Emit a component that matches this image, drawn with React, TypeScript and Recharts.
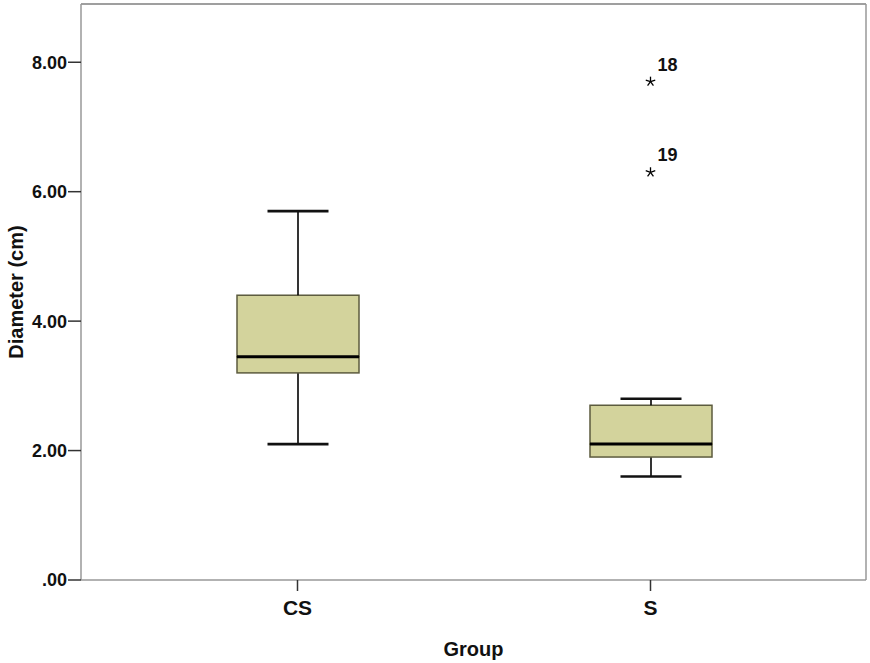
import React from 'react';
import { ComposedChart, Bar, Line, XAxis, YAxis, ReferenceLine } from 'recharts';

const groups = ['CS', 'S'];
const mins = [2.1, 1.6];
const q1s = [3.2, 1.9];
const medians = [3.45, 2.1];
const q3s = [4.4, 2.7];
const maxs = [5.7, 2.8];

const outlierGroups = ['S', 'S'];
const outlierValues = [7.7, 6.3];
const outlierLabels = ['18', '19'];

const yTicks = [0, 2, 4, 6, 8];
const yDomain = [0, 8.9];

const data = groups.map((g, i) => {
  const row: any = {
    group: g,
    base: mins[i],
    lowWhisker: q1s[i] - mins[i],
    lowBox: medians[i] - q1s[i],
    highBox: q3s[i] - medians[i],
    highWhisker: maxs[i] - q3s[i],
    out0: null,
    out1: null,
    lab0: null,
    lab1: null,
  };
  let k = 0;
  outlierGroups.forEach((og, j) => {
    if (og === g) {
      row['out' + k] = outlierValues[j];
      row['lab' + k] = outlierLabels[j];
      k++;
    }
  });
  return row;
});

const FONT = '"Liberation Sans", Arial, sans-serif';
const BOX_FILL = '#d3d39c';
const BOX_STROKE = '#5c5b3e';
const FRAME = '#999';

const LowWhisker = (p: any) => {
  const cx = p.x + p.width / 2;
  const half = p.width / 4;
  const bottom = p.y + p.height;
  return (
    <g>
      <line x1={cx} x2={cx} y1={p.y} y2={bottom} stroke="#000" strokeWidth={1.6} />
      <line x1={cx - half} x2={cx + half} y1={bottom} y2={bottom} stroke="#111" strokeWidth={2.6} />
    </g>
  );
};

const HighWhisker = (p: any) => {
  const cx = p.x + p.width / 2;
  const half = p.width / 4;
  return (
    <g>
      <line x1={cx} x2={cx} y1={p.y} y2={p.y + p.height} stroke="#000" strokeWidth={1.6} />
      <line x1={cx - half} x2={cx + half} y1={p.y} y2={p.y} stroke="#111" strokeWidth={2.6} />
    </g>
  );
};

const LowBox = (p: any) => (
  <rect x={p.x} y={p.y} width={p.width} height={p.height} fill={BOX_FILL} stroke={BOX_STROKE} strokeWidth={1.5} />
);

const HighBox = (p: any) => (
  <g>
    <rect x={p.x} y={p.y} width={p.width} height={p.height} fill={BOX_FILL} stroke={BOX_STROKE} strokeWidth={1.5} />
    <line x1={p.x} x2={p.x + p.width} y1={p.y + p.height} y2={p.y + p.height} stroke="#000" strokeWidth={3} />
  </g>
);

const makeOutlierDot = (labKey: string) => (p: any) => {
  const { cx, cy, payload } = p;
  if (cx == null || cy == null || payload == null || payload[labKey] == null) return <g key={p.key} />;
  const r = 5;
  const spokes = [0, 1, 2, 3, 4].map((i) => {
    const a = (-90 + i * 72) * (Math.PI / 180);
    return (
      <line key={i} x1={cx} y1={cy} x2={cx + r * Math.cos(a)} y2={cy + r * Math.sin(a)} stroke="#000" strokeWidth={1.3} />
    );
  });
  return (
    <g key={p.key}>
      {spokes}
      <text x={cx + 7} y={cy - 11} fontFamily={FONT} fontWeight="bold" fontSize={18} fill="#111">
        {payload[labKey]}
      </text>
    </g>
  );
};

const yFmt = (v: number) => (v === 0 ? '.00' : v.toFixed(2));

export default function App() {
  return (
    <div style={{ position: 'absolute', left: 0, top: 0, background: '#fff' }}>
      <ComposedChart width={870} height={663} data={data} margin={{ top: 3, right: 3, left: 0, bottom: 0 }}>
        <XAxis
          dataKey="group"
          type="category"
          height={83}
          padding={{ left: 40, right: 39 }}
          axisLine={{ stroke: FRAME, strokeWidth: 1.5 }}
          tickLine={{ stroke: '#333', strokeWidth: 1.5 }}
          tickSize={11}
          tickMargin={9}
          tick={{ fontFamily: FONT, fontWeight: 'bold', fontSize: 21, fill: '#111' }}
          label={{ value: 'Group', position: 'insideBottom', offset: 7, style: { fontFamily: FONT, fontWeight: 'bold', fontSize: 20, fill: '#111' } }}
        />
        <XAxis
          xAxisId="top"
          dataKey="group"
          orientation="top"
          height={1}
          tick={false}
          tickLine={false}
          axisLine={{ stroke: FRAME, strokeWidth: 1.5 }}
        />
        <YAxis
          type="number"
          domain={yDomain}
          ticks={yTicks}
          tickFormatter={yFmt}
          width={81}
          axisLine={{ stroke: FRAME, strokeWidth: 1.5 }}
          tickLine={{ stroke: '#333', strokeWidth: 1.5 }}
          tickSize={13}
          tickMargin={1}
          tick={{ fontFamily: FONT, fontWeight: 'bold', fontSize: 18, fill: '#111' }}
          label={{ value: 'Diameter (cm)', angle: -90, position: 'insideLeft', offset: 16, style: { textAnchor: 'middle', fontFamily: FONT, fontWeight: 'bold', fontSize: 20, fill: '#111' } }}
        />
        <YAxis
          yAxisId="right"
          orientation="right"
          type="number"
          domain={yDomain}
          width={1}
          tick={false}
          tickLine={false}
          axisLine={{ stroke: FRAME, strokeWidth: 1.5 }}
        />
        <ReferenceLine y={yDomain[1]} stroke={FRAME} strokeWidth={1.5} ifOverflow="extendDomain" />
        <Bar dataKey="base" stackId="box" barSize={122} fill="none" isAnimationActive={false} />
        <Bar dataKey="lowWhisker" stackId="box" barSize={122} shape={LowWhisker} isAnimationActive={false} />
        <Bar dataKey="lowBox" stackId="box" barSize={122} shape={LowBox} isAnimationActive={false} />
        <Bar dataKey="highBox" stackId="box" barSize={122} shape={HighBox} isAnimationActive={false} />
        <Bar dataKey="highWhisker" stackId="box" barSize={122} shape={HighWhisker} isAnimationActive={false} />
        <Line dataKey="out0" stroke="none" dot={makeOutlierDot('lab0')} activeDot={false} isAnimationActive={false} />
        <Line dataKey="out1" stroke="none" dot={makeOutlierDot('lab1')} activeDot={false} isAnimationActive={false} />
      </ComposedChart>
    </div>
  );
}
